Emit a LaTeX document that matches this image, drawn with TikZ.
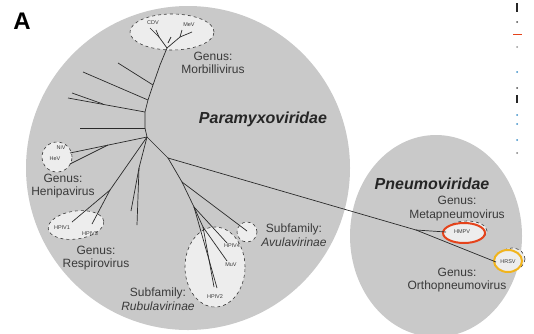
\documentclass[tikz,border=0pt]{standalone}
\usepackage{fontspec}
\setmainfont{Liberation Sans}
\usetikzlibrary{positioning}

\definecolor{famgrey}{HTML}{C9C9C9}
\definecolor{cladefill}{HTML}{EDEDED}
\definecolor{labelgrey}{HTML}{3A3A3A}
\definecolor{treeline}{HTML}{2A2A2A}
\definecolor{hmpvred}{HTML}{E5431B}
\definecolor{hrsvyellow}{HTML}{F1B41D}
\definecolor{panelblue}{HTML}{3C8FC9}

\begin{document}
\begin{tikzpicture}[x=1pt, y=-1pt,
  famdisc/.style={fill=famgrey, draw=none},
  clade/.style={fill=cladefill, draw=labelgrey, dashed, line width=0.6pt},
  branch/.style={draw=treeline, line width=0.7pt},
  tiny/.style={font=\fontsize{5.5}{6}\selectfont, text=labelgrey, inner sep=0pt},
  taxon/.style={font=\fontsize{12}{13.5}\selectfont, text=labelgrey, align=center, inner sep=0pt},
  family/.style={font=\fontsize{16}{17}\selectfont\bfseries\itshape, text=black!85, inner sep=0pt}]
\useasboundingbox (0,0) rectangle (534,333);

% family discs
\fill[famdisc] (188,168) ellipse [x radius=162pt, y radius=162pt];
\fill[famdisc] (436,236) ellipse [x radius=86pt, y radius=101pt];

% clade ellipses
\draw[clade] (172,32) ellipse [x radius=42pt, y radius=18pt];
\draw[clade] (57,157) ellipse [x radius=15pt, y radius=15pt];
\draw[clade, rotate around={8:(76,225)}] (76,225) ellipse [x radius=28pt, y radius=14pt];
\draw[clade] (215,267) ellipse [x radius=30pt, y radius=40pt];
\draw[clade] (247,232) ellipse [x radius=10pt, y radius=10pt];
\draw[clade] (467,231) ellipse [x radius=20pt, y radius=10pt];
\draw[clade] (512,259) ellipse [x radius=13pt, y radius=11pt];
\draw[fill=cladefill, draw=hmpvred, line width=2pt] (464,233) ellipse [x radius=21pt, y radius=10pt];
\draw[fill=cladefill, draw=hrsvyellow, line width=2pt] (508,261) ellipse [x radius=14pt, y radius=11pt];

% tree nodes
\coordinate (c0) at (147,137);
\coordinate (t1) at (145,128);
\coordinate (t2) at (145,112);
\coordinate (t3) at (148,100);
\coordinate (t4) at (153,85);
\coordinate (t5) at (160,65);
\coordinate (m0) at (167,48);
\coordinate (m1) at (159,37);
\coordinate (m2) at (180,37);
\coordinate (m3) at (168,43);
\coordinate (b1) at (103,104);
\coordinate (h0) at (108,145);
\coordinate (r0) at (110,190);
\coordinate (u0) at (139,168);
\coordinate (p0) at (168,158);
\coordinate (n0) at (416,230);
\coordinate (a0) at (182,182);
\coordinate (s0) at (194,207);
\coordinate (s1) at (203,227);

% leaves
\coordinate (l1) at (118,63);
\coordinate (l2) at (83,72);
\coordinate (l3) at (72,93);
\coordinate (l4) at (68,98);
\coordinate (l5) at (80,128);
\coordinate (l6) at (131,211);
\coordinate (l7) at (137,225);
\coordinate (cdv1) at (150,28);
\coordinate (cdv2) at (156,30);
\coordinate (mev1) at (192,32);
\coordinate (mev2) at (182,30);
\coordinate (mev3) at (171,37);
\coordinate (niv) at (70,153);
\coordinate (hev) at (70,164);
\coordinate (hpiv1) at (72,222);
\coordinate (hpiv3) at (92,224);
\coordinate (avula) at (247,231);
\coordinate (hpiv4) at (227,243);
\coordinate (muv) at (227,261);
\coordinate (hpiv2a) at (214,287);
\coordinate (hpiv2b) at (217,288);
\coordinate (hmpv) at (446,232);
\coordinate (hrsv) at (496,262);

\draw[branch] (c0) -- (t1) -- (t2) -- (t3) -- (t4) -- (t5) -- (m0);
\draw[branch] (t4) -- (l1);
\draw[branch] (t3) -- (l2);
\draw[branch] (t2) -- (l4);
\draw[branch] (b1) -- (l3);
\draw[branch] (t1) -- (l5);
\draw[branch] (m0) -- (m1);
\draw[branch] (m1) -- (cdv1);
\draw[branch] (m1) -- (cdv2);
\draw[branch] (m0) -- (m2);
\draw[branch] (m2) -- (mev1);
\draw[branch] (m2) -- (mev2);
\draw[branch] (m3) -- (mev3);
\draw[branch] (c0) -- (niv);
\draw[branch] (h0) -- (hev);
\draw[branch] (c0) -- (r0);
\draw[branch] (r0) -- (hpiv1);
\draw[branch] (r0) -- (hpiv3);
\draw[branch] (c0) -- (u0);
\draw[branch] (u0) -- (l6);
\draw[branch] (u0) -- (l7);
\draw[branch] (c0) -- (p0);
\draw[branch] (p0) -- (n0);
\draw[branch] (n0) -- (hmpv);
\draw[branch] (n0) -- (hrsv);
\draw[branch] (p0) -- (a0);
\draw[branch] (a0) -- (avula);
\draw[branch] (a0) -- (s0);
\draw[branch] (s0) -- (hpiv4);
\draw[branch] (s0) -- (s1);
\draw[branch] (s1) -- (muv);
\draw[branch] (s1) -- (hpiv2a);
\draw[branch] (s0) -- (hpiv2b);

% leaf labels
\node[tiny] (cdvlab) at (153,23) {CDV};
\node[tiny] (mevlab) at (189,25) {MeV};
\node[tiny] (nivlab) at (61,147) {NiV};
\node[tiny] (hevlab) at (55,159) {HeV};
\node[tiny] (hpiv1lab) at (62,228) {HPIV1};
\node[tiny] (hpiv3lab) at (90,234) {HPIV3};
\node[tiny] (hpiv4lab) at (232,246) {HPIV4};
\node[tiny] (muvlab) at (231,265) {MuV};
\node[tiny] (hpiv2lab) at (215,297) {HPIV2};
\node[tiny] (hmpvlab) at (462,232) {HMPV};
\node[tiny] (hrsvlab) at (508,262) {HRSV};

% taxon labels
\node[font=\fontsize{24}{24}\selectfont\bfseries, inner sep=0pt] (panel) at (22,21) {A};
\node[family] (paramyxo) at (263,119) {Paramyxoviridae};
\node[family] (pneumo) at (432,184) {Pneumoviridae};
\node[taxon] (morbilli) at (213,63) {Genus:\\Morbillivirus};
\node[taxon] (henipa) at (63,186) {Genus:\\Henipavirus};
\node[taxon] (respiro) at (96,258) {Genus:\\Respirovirus};
\node[taxon] (rubula) at (158,299) {Subfamily:\\\itshape Rubulavirinae};
\node[taxon] (avula) at (294,235) {Subfamily:\\\itshape Avulavirinae};
\node[taxon] (metapneumo) at (457,208.5) {Genus:\\Metapneumovirus};
\node[taxon] (orthopneumo) at (457,280) {Genus:\\Orthopneumovirus};

% edge of the next panel
\fill[black!85] (516,3) rectangle (518,12);
\fill[black!85] (516,95) rectangle (518,103);
\fill[hmpvred] (513,33.5) rectangle (522,34.5);
\foreach \yy/\cc in {22/black!70, 47/black!40, 72/panelblue, 88/black!70, 115/panelblue, 124/panelblue, 140/panelblue, 153/black!50}
  \fill[\cc] (517,\yy) circle [radius=1pt];
\end{tikzpicture}
\end{document}
